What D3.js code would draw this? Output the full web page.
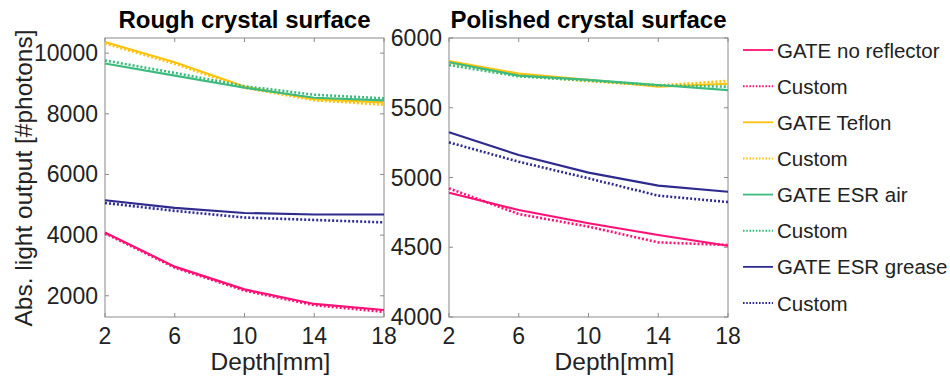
<!DOCTYPE html>
<html>
<head>
<meta charset="utf-8">
<script src="https://cdn.jsdelivr.net/npm/d3@7"></script>
<style>
  body { margin: 0; background: #fff; }
  text { font-family: "Liberation Sans", Arial, Helvetica, sans-serif; fill: #222; }
</style>
</head>
<body>
<svg id="canvas" width="950" height="382"></svg>
<script>
// Data
const depths = [2, 6, 10, 14, 18];
const xTicks = [2, 6, 10, 14, 18];

// Rough crystal surface
const roughNoRefl      = [4090, 2960, 2210, 1730, 1530];
const roughNoReflCust  = [4060, 2930, 2170, 1690, 1470];
const roughTeflon      = [10370, 9700, 8900, 8480, 8380];
const roughTeflonCust  = [10320, 9650, 8860, 8450, 8300];
const roughEsrAir      = [9660, 9260, 8860, 8530, 8440];
const roughEsrAirCust  = [9760, 9350, 8910, 8630, 8510];
const roughEsrGrease   = [5150, 4900, 4730, 4680, 4680];
const roughEsrGreaseCust = [5060, 4800, 4580, 4500, 4420];
const roughTicks = [2000, 4000, 6000, 8000, 10000];

// Polished crystal surface
const polNoRefl      = [4891, 4767, 4672, 4588, 4511];
const polNoReflCust  = [4922, 4738, 4648, 4535, 4516];
const polTeflon      = [5835, 5745, 5700, 5652, 5672];
const polTeflonCust  = [5822, 5730, 5690, 5660, 5692];
const polEsrAir      = [5826, 5730, 5700, 5663, 5627];
const polEsrAirCust  = [5806, 5725, 5695, 5660, 5651];
const polEsrGrease   = [5324, 5161, 5035, 4942, 4898];
const polEsrGreaseCust = [5252, 5113, 4994, 4870, 4824];
const polTicks = [4000, 4500, 5000, 5500, 6000];

const legendLabels = ["GATE no reflector", "Custom", "GATE Teflon", "Custom",
                      "GATE ESR air", "Custom", "GATE ESR grease", "Custom"];
const colors = ["#ff1177", "#ffc20e", "#3dbb7f", "#2e2a8e"];

const svg = d3.select("#canvas");

// build series list in legend order
function seriesFor(a) {
  return a.map((vals, i) => ({ vals, color: colors[Math.floor(i / 2)], dotted: i % 2 === 1 }));
}
const roughSeries = seriesFor([roughNoRefl, roughNoReflCust, roughTeflon, roughTeflonCust,
  roughEsrAir, roughEsrAirCust, roughEsrGrease, roughEsrGreaseCust]);
const polSeries = seriesFor([polNoRefl, polNoReflCust, polTeflon, polTeflonCust,
  polEsrAir, polEsrAirCust, polEsrGrease, polEsrGreaseCust]);

// Draw one panel
function drawPanel(opt) {
  const g = svg.append("g");
  const x = d3.scaleLinear().domain([2, 18]).range([opt.left, opt.right]);
  const y = d3.scaleLinear().domain(opt.yDomain).range([opt.bottom, opt.top]);

  // box
  g.append("rect")
    .attr("x", opt.left).attr("y", opt.top)
    .attr("width", opt.right - opt.left).attr("height", opt.bottom - opt.top)
    .attr("fill", "none").attr("stroke", "#8a8a8a").attr("stroke-width", 1);

  // inner ticks (both sides, like matlab box on)
  const tl = 4;
  opt.yTicks.forEach(t => {
    g.append("line").attr("x1", opt.left).attr("x2", opt.left + tl)
      .attr("y1", y(t)).attr("y2", y(t)).attr("stroke", "#8a8a8a");
    g.append("line").attr("x1", opt.right).attr("x2", opt.right - tl)
      .attr("y1", y(t)).attr("y2", y(t)).attr("stroke", "#8a8a8a");
    g.append("text").attr("x", opt.left - 7).attr("y", y(t))
      .attr("text-anchor", "end").attr("dominant-baseline", "central")
      .attr("font-size", 23).text(t);
  });
  xTicks.forEach(t => {
    g.append("line").attr("x1", x(t)).attr("x2", x(t))
      .attr("y1", opt.bottom).attr("y2", opt.bottom - tl).attr("stroke", "#8a8a8a");
    g.append("line").attr("x1", x(t)).attr("x2", x(t))
      .attr("y1", opt.top).attr("y2", opt.top + tl).attr("stroke", "#8a8a8a");
    g.append("text").attr("x", x(t)).attr("y", 344)
      .attr("text-anchor", "middle").attr("font-size", 23).text(t);
  });

  // lines
  const line = d3.line().x((d, i) => x(depths[i])).y(d => y(d));
  opt.series.forEach(s => {
    g.append("path")
      .datum(s.vals)
      .attr("d", line)
      .attr("fill", "none")
      .attr("stroke", s.color)
      .attr("stroke-width", s.dotted ? 2.6 : 2.2)
      .attr("stroke-dasharray", s.dotted ? "2,2" : null);
  });

  // title
  g.append("text").attr("x", (opt.left + opt.right) / 2).attr("y", 28)
    .attr("text-anchor", "middle").attr("font-size", 24).attr("font-weight", "bold")
    .style("fill", "#000").text(opt.title);

  // x label
  g.append("text").attr("x", (opt.left + opt.right) / 2 + 26).attr("y", 370)
    .attr("text-anchor", "middle").attr("font-size", 24.5).text("Depth[mm]");
}

drawPanel({
  left: 105, right: 384, top: 38, bottom: 317,
  yDomain: [1300, 10500], yTicks: roughTicks,
  series: roughSeries, title: "Rough crystal surface"
});
drawPanel({
  left: 449, right: 728, top: 38, bottom: 317,
  yDomain: [4000, 6000], yTicks: polTicks,
  series: polSeries, title: "Polished crystal surface"
});

// y label
svg.append("text")
  .attr("transform", "translate(32,178) rotate(-90)")
  .attr("text-anchor", "middle").attr("font-size", 24.5)
  .text("Abs. light output [#photons]");

// legend
const legY = d3.scalePoint().domain(d3.range(8)).range([50, 303]);
const leg = svg.append("g");
polSeries.forEach((s, i) => {
  leg.append("line")
    .attr("x1", 743).attr("x2", 773)
    .attr("y1", legY(i)).attr("y2", legY(i))
    .attr("stroke", s.color).attr("stroke-width", s.dotted ? 2 : 1.8)
    .attr("stroke-dasharray", s.dotted ? "1.6,1.6" : null);
  leg.append("text")
    .attr("x", 777).attr("y", legY(i))
    .attr("dominant-baseline", "central")
    .attr("font-size", 20.5)
    .text(legendLabels[i]);
});
</script>
</body>
</html>
